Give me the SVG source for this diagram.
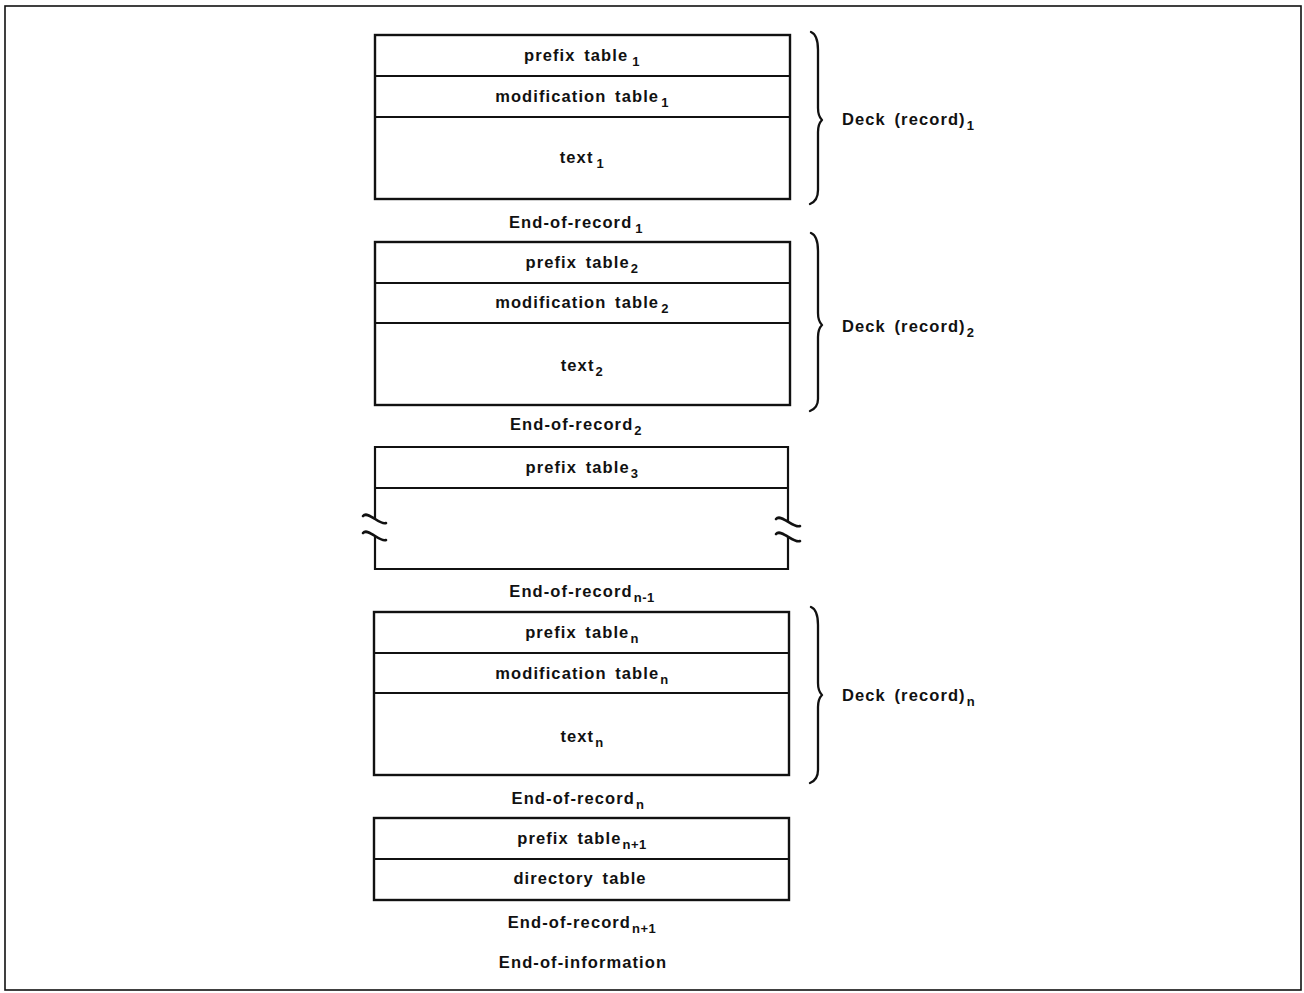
<svg xmlns="http://www.w3.org/2000/svg" width="1304" height="993" viewBox="0 0 1304 993">
<style>
.box{fill:none;stroke:#111;stroke-width:2.4}
.div{stroke:#111;stroke-width:2.2}
.brace{fill:none;stroke:#111;stroke-width:2.3;stroke-linecap:round;stroke-linejoin:round}
.brk{fill:none;stroke:#111;stroke-width:2.6;stroke-linecap:round}
text{font-family:"Liberation Sans",Arial,sans-serif;font-weight:bold;font-size:16.5px;letter-spacing:1.1px;word-spacing:3px;fill:#111}
.c{text-anchor:middle}
.s{font-size:13px;letter-spacing:0.5px}
</style>
<rect x="5" y="6" width="1296" height="984" fill="none" stroke="#111" stroke-width="1.6"/>

<g id="deck1">
<rect class="box" x="375" y="35" width="415" height="164"/>
<line class="div" x1="375" y1="76" x2="790" y2="76"/>
<line class="div" x1="375" y1="117" x2="790" y2="117"/>
<text class="c" x="582" y="61">prefix table<tspan class="s" dx="4" dy="5">1</tspan></text>
<text class="c" x="582" y="102">modification table<tspan class="s" dx="2" dy="5">1</tspan></text>
<text class="c" x="582" y="163">text<tspan class="s" dx="3" dy="5">1</tspan></text>
<text class="c" x="576" y="228">End-of-record<tspan class="s" dx="3" dy="5">1</tspan></text>
</g>

<g id="deck2">
<rect class="box" x="375" y="242" width="415" height="163"/>
<line class="div" x1="375" y1="283" x2="790" y2="283"/>
<line class="div" x1="375" y1="323" x2="790" y2="323"/>
<text class="c" x="582" y="268">prefix table<tspan class="s" dx="1" dy="5">2</tspan></text>
<text class="c" x="582" y="308">modification table<tspan class="s" dx="2" dy="5">2</tspan></text>
<text class="c" x="582" y="371">text<tspan class="s" dx="1" dy="5">2</tspan></text>
<text class="c" x="576" y="430">End-of-record<tspan class="s" dx="1" dy="5">2</tspan></text>
</g>

<g id="deck3">
<line class="div" x1="374" y1="447" x2="789" y2="447"/>
<line class="div" x1="374" y1="488" x2="789" y2="488"/>
<line class="div" x1="374" y1="569" x2="789" y2="569"/>
<line class="div" x1="375" y1="446" x2="375" y2="520"/>
<line class="div" x1="375" y1="536" x2="375" y2="570"/>
<line class="div" x1="788" y1="446" x2="788" y2="521"/>
<line class="div" x1="788" y1="537" x2="788" y2="570"/>
<path class="brk" d="M363,516 C368,510 380,526 386,523"/>
<path class="brk" d="M363,533 C368,527 380,543 386,540"/>
<path class="brk" d="M776,519 C781,513 794,529 800,526"/>
<path class="brk" d="M776,534 C781,528 794,544 800,541"/>
<text class="c" x="582" y="473">prefix table<tspan class="s" dx="1" dy="5">3</tspan></text>
<text class="c" x="582" y="597">End-of-record<tspan class="s" dx="1" dy="5">n-1</tspan></text>
</g>

<g id="deckn">
<rect class="box" x="374" y="612" width="415" height="163"/>
<line class="div" x1="374" y1="653" x2="789" y2="653"/>
<line class="div" x1="374" y1="693" x2="789" y2="693"/>
<text class="c" x="582" y="638">prefix table<tspan class="s" dx="1" dy="5">n</tspan></text>
<text class="c" x="582" y="679">modification table<tspan class="s" dx="1" dy="5">n</tspan></text>
<text class="c" x="582" y="742">text<tspan class="s" dx="1" dy="5">n</tspan></text>
<text class="c" x="578" y="804">End-of-record<tspan class="s" dx="1" dy="5">n</tspan></text>
</g>

<g id="deckn1">
<rect class="box" x="374" y="818" width="415" height="82"/>
<line class="div" x1="374" y1="859" x2="789" y2="859"/>
<text class="c" x="582" y="844">prefix table<tspan class="s" dx="1" dy="5">n+1</tspan></text>
<text class="c" x="580" y="884">directory table</text>
<text class="c" x="582" y="928">End-of-record<tspan class="s" dx="1" dy="5">n+1</tspan></text>
<text class="c" x="583" y="968">End-of-information</text>
</g>

<g id="connectors">
<path class="brace" d="M811,32 C816,34 818,40 818,50 L818,108 C818,115 820,118 822,120 C820,122 818,125 818,132 L818,190 C818,198 815,202 810,204"/>
<path class="brace" d="M811,233 C816,235 818,241 818,251 L818,313 C818,320 820,323 822,325 C820,327 818,330 818,337 L818,399 C818,406 815,409 810,411"/>
<path class="brace" d="M811,607 C816,609 818,615 818,625 L818,683 C818,690 820,693 822,695 C820,697 818,700 818,707 L818,770 C818,777 815,781 810,783"/>
</g>

<g id="labels">
<text x="842" y="125">Deck (record)<tspan class="s" dx="1" dy="5">1</tspan></text>
<text x="842" y="332">Deck (record)<tspan class="s" dx="1" dy="5">2</tspan></text>
<text x="842" y="701">Deck (record)<tspan class="s" dx="1" dy="5">n</tspan></text>
</g>
</svg>
